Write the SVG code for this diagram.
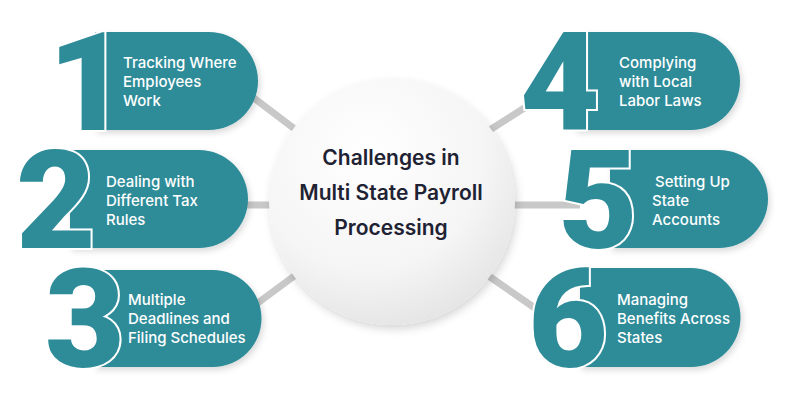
<svg xmlns="http://www.w3.org/2000/svg" width="800" height="400" viewBox="0 0 800 400">
<defs>
<style>
.pill{fill:#2e8c99}
.dig{font-family:Roboto,"Liberation Sans",sans-serif;font-weight:900;font-size:138px;fill:#2e8c99;stroke:#ffffff;stroke-width:4;paint-order:stroke;text-anchor:middle}
.lbl{font-family:Inter,"Liberation Sans",sans-serif;font-weight:500;font-size:15px;fill:#ffffff}
.ctr{font-family:Inter,"Liberation Sans",sans-serif;font-weight:600;font-size:21px;fill:#1f2233;text-anchor:middle}
.conn{stroke:#c8c8c8;stroke-width:7;fill:none}
</style>
<radialGradient id="cg" cx="0.4" cy="0.3" r="0.8">
<stop offset="0" stop-color="#ffffff"/>
<stop offset="0.6" stop-color="#f5f5f5"/>
<stop offset="1" stop-color="#e0e0e0"/>
</radialGradient>
<filter id="sh" x="-20%" y="-20%" width="140%" height="140%">
<feDropShadow dx="2" dy="4" stdDeviation="4" flood-color="#000" flood-opacity="0.16"/>
</filter>
<filter id="psh" x="-10%" y="-10%" width="125%" height="130%">
<feDropShadow dx="2" dy="3" stdDeviation="3" flood-color="#000" flood-opacity="0.15"/>
</filter>
</defs>
<rect width="800" height="400" fill="#ffffff"/>
<g id="connectors">
<line class="conn" x1="250" y1="95" x2="300" y2="133"/>
<line class="conn" x1="240" y1="205" x2="280" y2="205"/>
<line class="conn" x1="255" y1="305" x2="305" y2="268"/>
<line class="conn" x1="540" y1="98" x2="485" y2="133"/>
<line class="conn" x1="505" y1="205" x2="580" y2="205"/>
<line class="conn" x1="480" y1="270" x2="545" y2="315"/>
</g>
<g id="center">
<circle cx="392" cy="202" r="123" fill="url(#cg)" filter="url(#sh)"/>
<text class="ctr" x="391" y="165">Challenges in</text>
<text class="ctr" x="391" y="200">Multi State Payroll</text>
<text class="ctr" x="391" y="235">Processing</text>
</g>
<g id="node1">
<path class="pill" filter="url(#psh)" d="M95 32 H209 A49 49 0 0 1 209 130 H95 Z"/>
<text class="dig" x="88" y="130">1</text>
<text class="lbl" x="123" y="68">Tracking Where</text>
<text class="lbl" x="123" y="87">Employees</text>
<text class="lbl" x="123" y="106">Work</text>
</g>
<g id="node2">
<path class="pill" filter="url(#psh)" d="M70 150 H199 A49 49 0 0 1 199 248 H70 Z"/>
<text class="dig" x="56" y="248">2</text>
<text class="lbl" x="106" y="187">Dealing with</text>
<text class="lbl" x="106" y="206">Different Tax</text>
<text class="lbl" x="106" y="225">Rules</text>
</g>
<g id="node3">
<path class="pill" filter="url(#psh)" d="M95 270 H213 A48.5 48.5 0 0 1 213 367 H95 Z"/>
<text class="dig" x="85" y="367">3</text>
<text class="lbl" x="128" y="305">Multiple</text>
<text class="lbl" x="128" y="324">Deadlines and</text>
<text class="lbl" x="128" y="343">Filing Schedules</text>
</g>
<g id="node4">
<path class="pill" filter="url(#psh)" d="M575 32 H691 A49 49 0 0 1 691 130 H575 Z"/>
<text class="dig" x="560" y="130">4</text>
<text class="lbl" x="619" y="68">Complying</text>
<text class="lbl" x="619" y="87">with Local</text>
<text class="lbl" x="619" y="106">Labor Laws</text>
</g>
<g id="node5">
<path class="pill" filter="url(#psh)" d="M610 150 H719 A49 49 0 0 1 719 248 H610 Z"/>
<text class="dig" x="598" y="248">5</text>
<text class="lbl" x="655" y="187">Setting Up</text>
<text class="lbl" x="652" y="206">State</text>
<text class="lbl" x="652" y="225">Accounts</text>
</g>
<g id="node6">
<path class="pill" filter="url(#psh)" d="M580 268 H691 A49.5 49.5 0 0 1 691 367 H580 Z"/>
<text class="dig" x="568" y="367">6</text>
<text class="lbl" x="617" y="305">Managing</text>
<text class="lbl" x="617" y="324">Benefits Across</text>
<text class="lbl" x="617" y="343">States</text>
</g>
</svg>
